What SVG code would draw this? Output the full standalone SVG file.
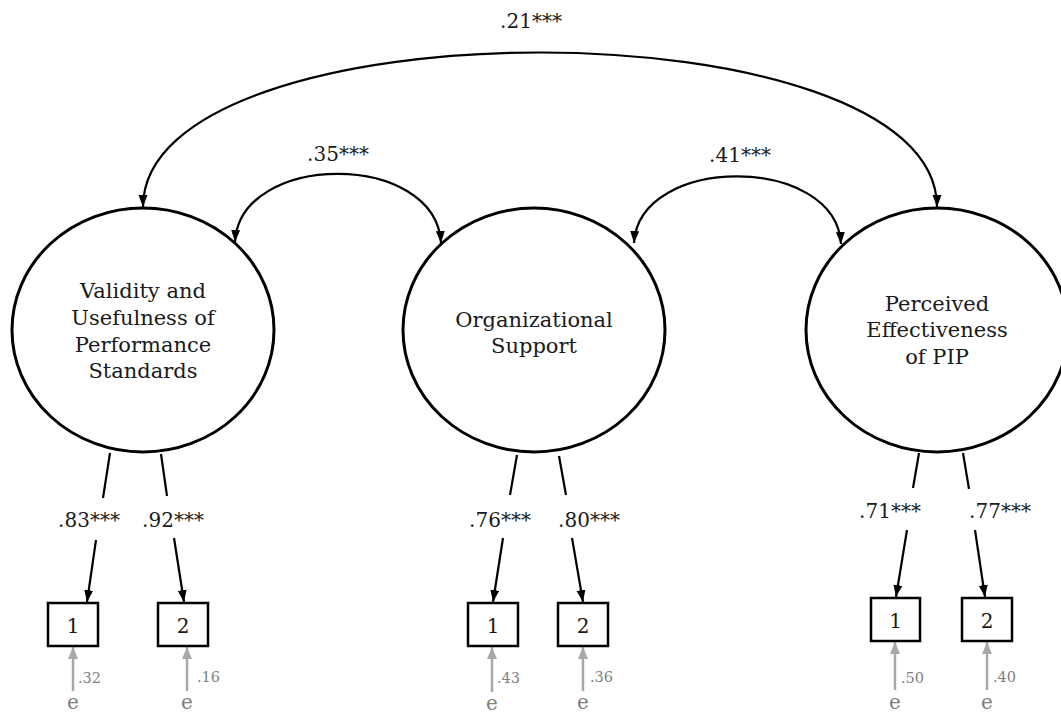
<svg xmlns="http://www.w3.org/2000/svg" width="1061" height="715" viewBox="0 0 1061 715">
<style>
.lat{fill:#fff;stroke:#000;stroke-width:3}
.box{fill:#fff;stroke:#000;stroke-width:2.5}
.t{font-family:"DejaVu Serif","Liberation Serif",serif;font-size:21px;fill:#1a1a1a;text-anchor:middle}
.n{font-family:"DejaVu Serif","Liberation Serif",serif;font-size:20px;fill:#1a1a1a;text-anchor:middle}
.lbl{font-family:"DejaVu Serif","Liberation Serif",serif;font-size:20px;fill:#1a1a1a;text-anchor:middle}
.err{font-family:"DejaVu Serif","Liberation Serif",serif;font-size:14.5px;fill:#808080}
.e{font-family:"DejaVu Serif","Liberation Serif",serif;font-size:20px;fill:#808080;text-anchor:middle}
.c{fill:none;stroke:#000;stroke-width:2.2}
.g{fill:none;stroke:#a8a8a8;stroke-width:2.5}
</style>
<defs>
<marker id="ah" markerUnits="userSpaceOnUse" markerWidth="13" markerHeight="10" refX="12" refY="4.5" orient="auto-start-reverse">
<path d="M0,0 L12,4.5 L0,9 z" fill="#000"/>
</marker>
<marker id="gh" markerUnits="userSpaceOnUse" markerWidth="13" markerHeight="11" refX="12" refY="5" orient="auto">
<path d="M0,0 L12,5 L0,10 z" fill="#a8a8a8"/>
</marker>
</defs>

<g id="connectors">
<path class="c" d="M143,207 C143,1 937,1 937,207" marker-start="url(#ah)" marker-end="url(#ah)"/>
<path class="c" d="M235,242 C240,151 436,151 441,243" marker-start="url(#ah)" marker-end="url(#ah)"/>
<path class="c" d="M634,243 C639,154 836,154 841,244" marker-start="url(#ah)" marker-end="url(#ah)"/>

<line class="c" x1="110" y1="453" x2="103" y2="498"/>
<line class="c" x1="96" y1="540" x2="87" y2="602" marker-end="url(#ah)"/>
<line class="c" x1="161" y1="454" x2="167" y2="496"/>
<line class="c" x1="174" y1="538" x2="184" y2="602" marker-end="url(#ah)"/>

<line class="c" x1="517" y1="455" x2="510" y2="495"/>
<line class="c" x1="503" y1="538" x2="493" y2="602" marker-end="url(#ah)"/>
<line class="c" x1="559" y1="456" x2="566" y2="495"/>
<line class="c" x1="572" y1="538" x2="583" y2="602" marker-end="url(#ah)"/>

<line class="c" x1="919" y1="453" x2="913" y2="488"/>
<line class="c" x1="907" y1="530" x2="896" y2="597" marker-end="url(#ah)"/>
<line class="c" x1="963" y1="453" x2="969" y2="489"/>
<line class="c" x1="975" y1="530" x2="985" y2="597" marker-end="url(#ah)"/>

<line class="g" x1="73" y1="691" x2="73" y2="647" marker-end="url(#gh)"/>
<line class="g" x1="187" y1="691" x2="187" y2="647" marker-end="url(#gh)"/>
<line class="g" x1="492" y1="692" x2="492" y2="647" marker-end="url(#gh)"/>
<line class="g" x1="583" y1="691" x2="583" y2="647" marker-end="url(#gh)"/>
<line class="g" x1="895" y1="690" x2="895" y2="642" marker-end="url(#gh)"/>
<line class="g" x1="987" y1="690" x2="987" y2="642" marker-end="url(#gh)"/>

<text class="lbl" x="531" y="28">.21***</text>
<text class="lbl" x="338" y="161">.35***</text>
<text class="lbl" x="740" y="162">.41***</text>
<text class="lbl" x="89" y="527">.83***</text>
<text class="lbl" x="173" y="527">.92***</text>
<text class="lbl" x="500" y="527">.76***</text>
<text class="lbl" x="589" y="527">.80***</text>
<text class="lbl" x="890" y="518">.71***</text>
<text class="lbl" x="1000" y="518">.77***</text>
<text class="err" x="78" y="683">.32</text>
<text class="err" x="197" y="682">.16</text>
<text class="err" x="497" y="683">.43</text>
<text class="err" x="590" y="682">.36</text>
<text class="err" x="901" y="683">.50</text>
<text class="err" x="993" y="682">.40</text>
</g>

<g id="lat-validity">
<ellipse class="lat" cx="143" cy="330" rx="131" ry="122"/>
<text class="t" x="143" y="298">Validity and</text>
<text class="t" x="143" y="325">Usefulness of</text>
<text class="t" x="143" y="352">Performance</text>
<text class="t" x="143" y="378">Standards</text>
</g>
<g id="lat-org">
<ellipse class="lat" cx="534" cy="330" rx="131" ry="122"/>
<text class="t" x="534" y="327">Organizational</text>
<text class="t" x="534" y="353">Support</text>
</g>
<g id="lat-pip">
<ellipse class="lat" cx="937" cy="330" rx="131" ry="122"/>
<text class="t" x="937" y="311">Perceived</text>
<text class="t" x="937" y="337">Effectiveness</text>
<text class="t" x="937" y="364">of PIP</text>
</g>

<g id="v-ind1"><rect class="box" x="48" y="603" width="50" height="43"/><text class="n" x="73" y="633">1</text><text class="e" x="73" y="709">e</text></g>
<g id="v-ind2"><rect class="box" x="158" y="603" width="50" height="43"/><text class="n" x="183" y="633">2</text><text class="e" x="187" y="709">e</text></g>
<g id="o-ind1"><rect class="box" x="468" y="603" width="50" height="43"/><text class="n" x="493" y="633">1</text><text class="e" x="492" y="710">e</text></g>
<g id="o-ind2"><rect class="box" x="558" y="603" width="50" height="43"/><text class="n" x="583" y="633">2</text><text class="e" x="583" y="709">e</text></g>
<g id="p-ind1"><rect class="box" x="871" y="598" width="49" height="43"/><text class="n" x="895.5" y="628">1</text><text class="e" x="895" y="709">e</text></g>
<g id="p-ind2"><rect class="box" x="962" y="598" width="50" height="43"/><text class="n" x="987" y="628">2</text><text class="e" x="987" y="709">e</text></g>
</svg>
